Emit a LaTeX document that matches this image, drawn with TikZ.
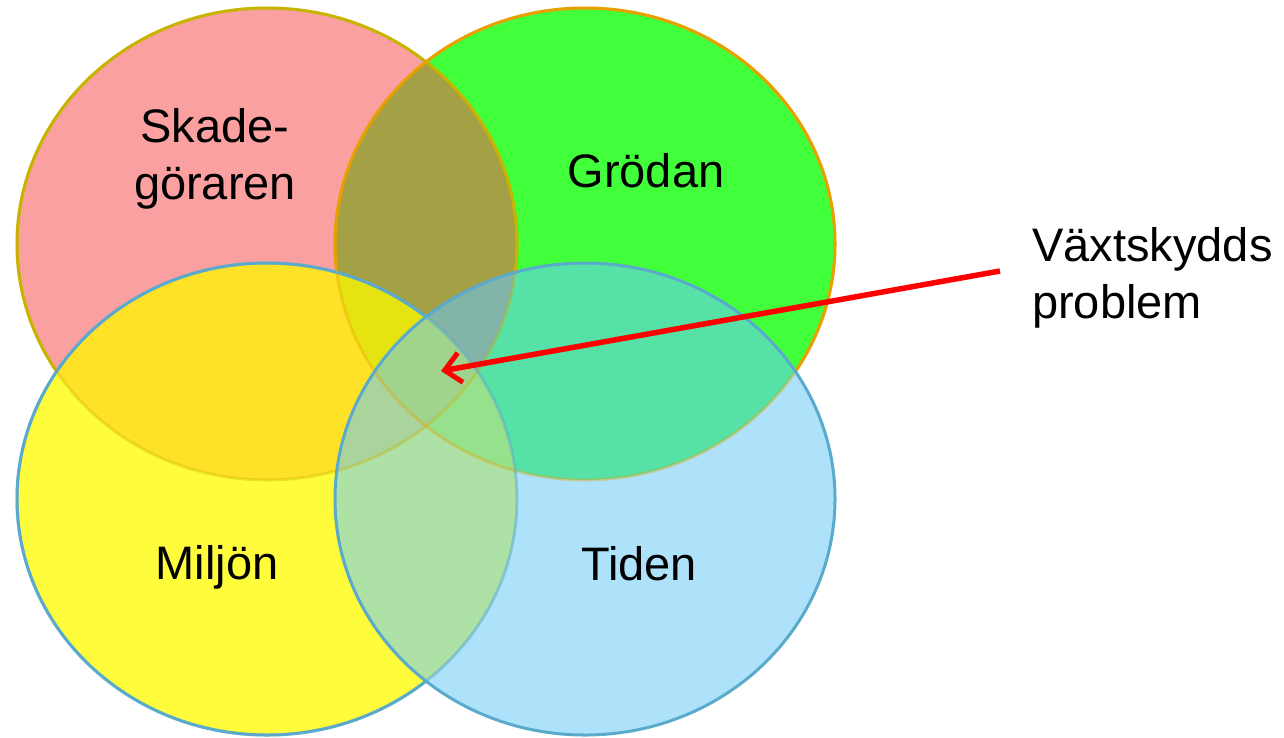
\documentclass[tikz,border=0pt]{standalone}
\usepackage{fontspec}
\setmainfont{Liberation Sans}
\usetikzlibrary{arrows.meta}
\definecolor{cPink}{HTML}{FAA0A0}
\definecolor{cGreen}{HTML}{42FF3C}
\definecolor{cYellow}{HTML}{FFFC3C}
\definecolor{cBlue}{HTML}{AEE2FA}
\definecolor{cPG}{HTML}{A4A046}
\definecolor{cPY}{HTML}{FFE228}
\definecolor{cPGY}{HTML}{E6E410}
\definecolor{cGB}{HTML}{56E2A6}
\definecolor{cYB}{HTML}{ADE1A5}
\definecolor{cPGB}{HTML}{82B4A8}
\definecolor{cPYB}{HTML}{AAD49B}
\definecolor{cGYB}{HTML}{96E28C}
\definecolor{cAll}{HTML}{A0D48C}
\definecolor{cPinkRim}{HTML}{C8B400}
\definecolor{cGreenRim}{HTML}{E8A000}
\definecolor{cBlueRim}{HTML}{5AAACC}
\definecolor{cArrow}{HTML}{FF0000}
\begin{document}
\begin{tikzpicture}[x=1pt,y=-1pt,
  lbl/.style={font=\fontsize{47}{57}\selectfont, inner sep=0pt},
  rim/.style={line width=3pt},
  pointer/.style={draw=cArrow, line width=5.5pt, -{Straight Barb[length=16pt,width=30pt,line width=5pt]}}]
\useasboundingbox (0,0) rectangle (1284,737);
\def\Pc{(267,244) ellipse [x radius=250pt, y radius=236pt]}
\def\Gc{(585,244) ellipse [x radius=250pt, y radius=236pt]}
\def\Yc{(267,499) ellipse [x radius=250pt, y radius=236pt]}
\def\Bc{(585,499) ellipse [x radius=250pt, y radius=236pt]}
% pink and green
\fill[cPink] \Pc;
\fill[cGreen] \Gc;
\begin{scope}\clip \Pc; \fill[cPG] \Gc; \end{scope}
\draw[rim, cPinkRim] \Pc;
\draw[rim, cGreenRim] \Gc;
% yellow
\fill[cYellow] \Yc;
\begin{scope}\clip \Yc; \fill[cPY] \Pc; \end{scope}
\begin{scope}\clip \Yc; \clip \Pc; \fill[cPGY] \Gc; \end{scope}
\draw[rim, cBlueRim] \Yc;
% blue
\fill[cBlue] \Bc;
\begin{scope}\clip \Bc; \fill[cGB] \Gc; \fill[cYB] \Yc; \end{scope}
\begin{scope}\clip \Bc; \clip \Pc; \fill[cPGB] \Gc; \fill[cPYB] \Yc; \end{scope}
\begin{scope}\clip \Bc; \clip \Gc; \fill[cGYB] \Yc; \end{scope}
\begin{scope}\clip \Bc; \clip \Pc; \clip \Gc; \fill[cAll] \Yc; \end{scope}
% faint rims seen through later circles
\draw[rim, cPinkRim, draw opacity=0.35] \Pc;
\draw[rim, cGreenRim, draw opacity=0.35] \Gc;
\draw[rim, cBlueRim, draw opacity=0.5] \Yc;
\draw[rim, cBlueRim] \Bc;
% labels
\node[lbl, align=center] (skade) at (215,159) {Skade-\\göraren};
\node[lbl, anchor=base] (grodan) at (646,187) {Grödan};
\node[lbl, anchor=base] (miljon) at (217,579) {Miljön};
\node[lbl, anchor=base] (tiden) at (639,580) {Tiden};
\node[lbl, align=left, anchor=north west] (vaxt) at (1032,227) {Växtskydds\\problem};
% arrow
\coordinate (astart) at (1000,271);
\coordinate (atip) at (441,371);
\draw[pointer] (astart) -- (atip);
\end{tikzpicture}
\end{document}
